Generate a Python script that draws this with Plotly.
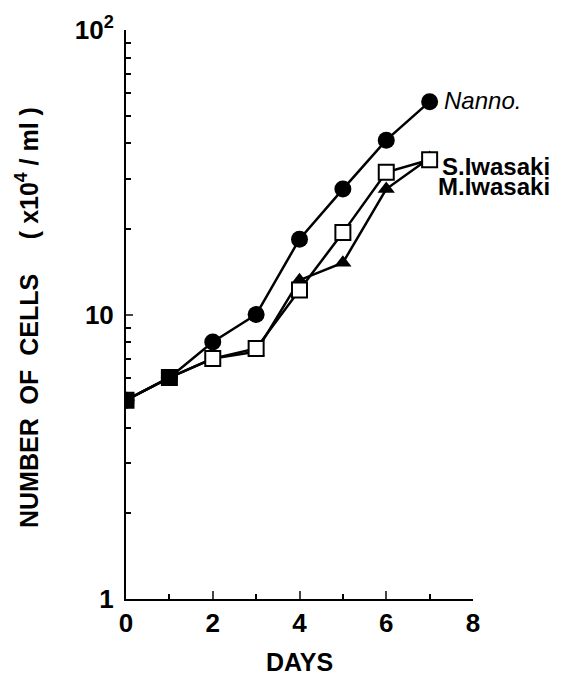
import math
import plotly.graph_objects as go

days = [0, 1, 2, 3, 4, 5, 6, 7]
nanno = [5.0, 6.0, 8.0, 10.0, 18.4, 27.6, 41.0, 56.0]
s_iwasaki = [5.0, 6.0, 7.0, 7.4, 13.2, 15.2, 27.6, 35.5]
m_iwasaki = [5.0, 6.0, 7.0, 7.6, 12.2, 19.4, 31.6, 35.0]
square_fill = ["black", "black", "white", "white", "white", "white", "white", "white"]

x_ticks = [0, 2, 4, 6, 8]
x_minor = [1, 3, 5, 7]
y_ticks = [1, 10, 100]
y_ticktext = ["1", "10", "10<sup>2</sup>"]
y_minor = [2, 3, 4, 5, 6, 7, 8, 9, 20, 30, 40, 50, 60, 70, 80, 90]

series_labels = ["<i>Nanno.</i>", "<b>S.Iwasaki</b>", "<b>M.Iwasaki</b>"]
label_x = [7.28, 7.24, 7.15]
label_y = [56.4, 33.0, 28.2]

FONT = "Liberation Sans, Arial, sans-serif"

fig = go.Figure()
fig.add_trace(go.Scatter(x=days, y=s_iwasaki, mode="lines+markers",
                         line=dict(color="black", width=2.5),
                         marker=dict(symbol="triangle-up", size=15, color="black"),
                         showlegend=False))
fig.add_trace(go.Scatter(x=days, y=nanno, mode="lines+markers",
                         line=dict(color="black", width=2.5),
                         marker=dict(symbol="circle", size=17, color="black"),
                         showlegend=False))
fig.add_trace(go.Scatter(x=days, y=m_iwasaki, mode="lines+markers",
                         line=dict(color="black", width=2.5),
                         marker=dict(symbol="square", size=15, color=square_fill,
                                     line=dict(color="black", width=2)),
                         showlegend=False))

fig.update_layout(
    width=561, height=688,
    margin=dict(l=126, r=88, t=20, b=89),
    paper_bgcolor="white", plot_bgcolor="white",
    font=dict(family=FONT, color="black"),
    xaxis=dict(range=[0, 8], tickvals=x_ticks, ticks="inside", ticklen=8, tickwidth=2,
               showline=True, linecolor="black", linewidth=2, showgrid=False, zeroline=False,
               tickfont=dict(size=26, family=FONT, weight="bold"),
               minor=dict(tickvals=x_minor, ticks="inside", ticklen=5, tickwidth=2, tickcolor="black"),
               title=dict(text="<b>DAYS</b>", font=dict(size=25), standoff=16)),
    yaxis=dict(type="log", range=[0, 2], tickvals=y_ticks, ticktext=y_ticktext,
               ticks="inside", ticklen=7, tickwidth=2,
               showline=True, linecolor="black", linewidth=2, showgrid=False, zeroline=False,
               tickfont=dict(size=26, family=FONT, weight="bold"), ticklabelstandoff=5,
               minor=dict(tickvals=y_minor, ticks="inside", ticklen=5, tickwidth=2, tickcolor="black")),
)

fig.add_annotation(xref="paper", yref="paper", x=-0.285, y=0.494, xanchor="center", yanchor="middle",
                   textangle=-90, showarrow=False,
                   text="<b>NUMBER\u00a0\u00a0OF\u00a0\u00a0CELLS\u00a0\u00a0\u00a0\u00a0\u00a0(\u00a0x10<sup>4</sup>\u00a0/\u00a0ml\u00a0)</b>",
                   font=dict(size=25, family=FONT))

for txt, xv, yv in zip(series_labels, label_x, label_y):
    fig.add_annotation(x=xv, y=math.log10(yv), yref="y", xref="x", xanchor="left", yanchor="middle",
                       showarrow=False, text=txt, font=dict(size=24, family=FONT))

fig.write_html("out.html")
